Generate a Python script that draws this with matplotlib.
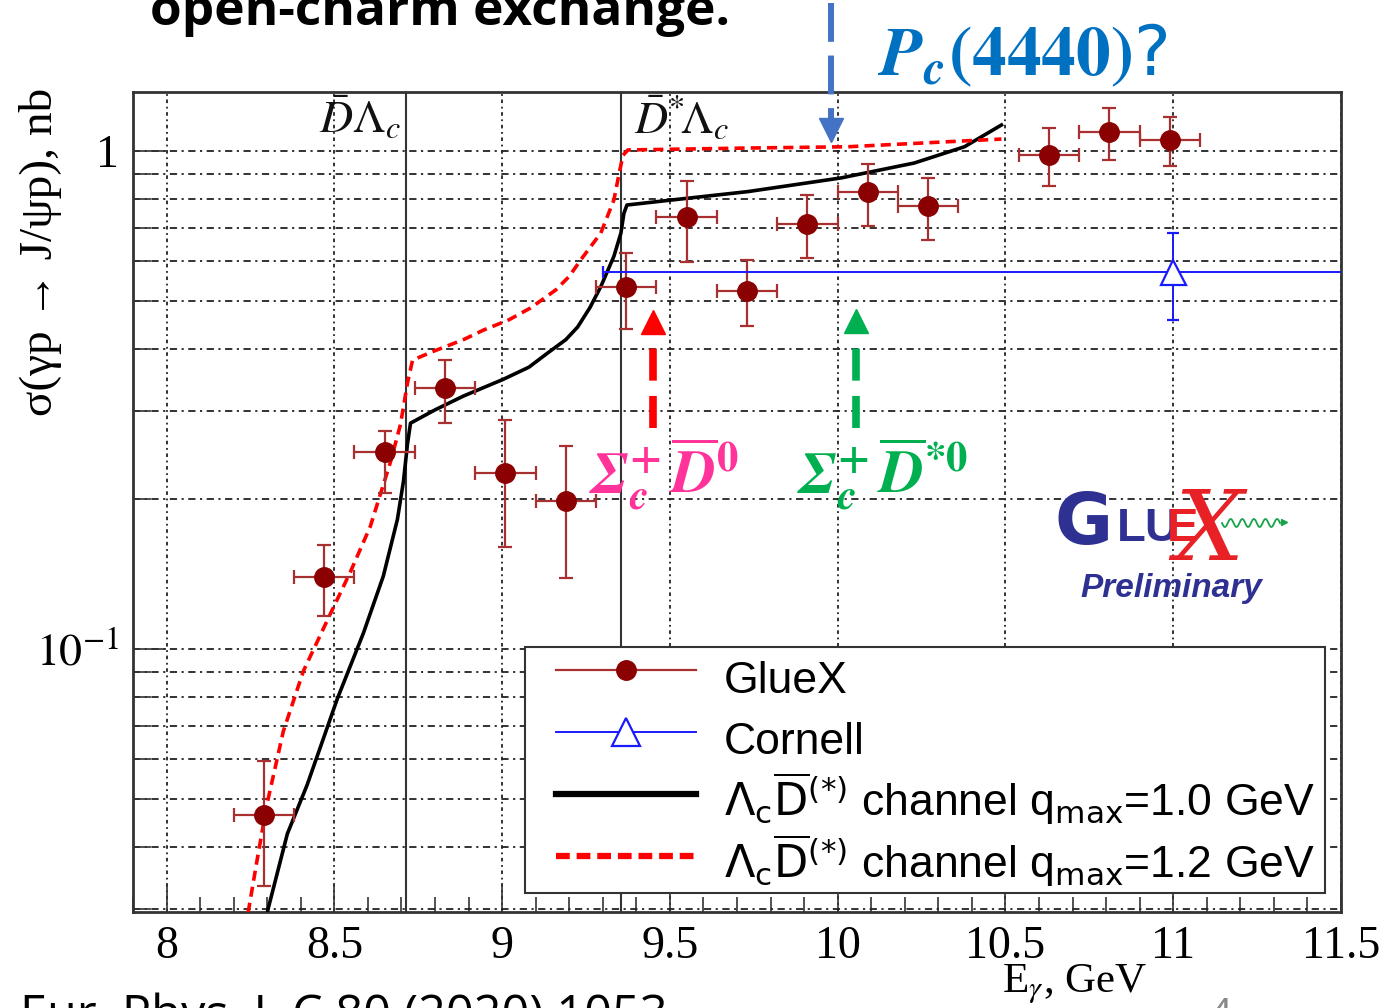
import numpy as np
import matplotlib
matplotlib.use("Agg")
import matplotlib.pyplot as plt
import matplotlib.transforms as mtransforms
from matplotlib.lines import Line2D
from matplotlib.patches import Rectangle
from matplotlib.font_manager import FontProperties
from matplotlib.ticker import FixedLocator, NullFormatter, MultipleLocator, FixedFormatter

# ---- GlueX measurement: sigma(gamma p -> J/psi p) in nb ----
gluex_E = [8.29, 8.47, 8.65, 8.83, 9.01, 9.19, 9.37, 9.55, 9.73, 9.91, 10.09, 10.27, 10.63, 10.81, 10.99]
gluex_sigma = [0.0464, 0.1395, 0.248, 0.334, 0.226, 0.198, 0.533, 0.737, 0.523, 0.713, 0.827, 0.775, 0.982, 1.092, 1.052]
gluex_err_up = [0.013, 0.022, 0.026, 0.046, 0.062, 0.058, 0.091, 0.134, 0.081, 0.103, 0.115, 0.108, 0.130, 0.128, 0.118]
gluex_err_dn = [0.013, 0.023, 0.042, 0.050, 0.066, 0.059, 0.094, 0.139, 0.078, 0.103, 0.120, 0.112, 0.131, 0.133, 0.119]
gluex_bin_half = 0.09

# ---- Cornell measurement ----
cornell_E = [11.0]
cornell_sigma = [0.571]
cornell_err = [0.113]
cornell_E_half = [1.70]

# ---- Model curves: Lambda_c D(*) exchange ----
q10_E = [8.29, 8.303, 8.36, 8.419, 8.509, 8.587, 8.646, 8.688, 8.706, 8.718, 8.727, 8.80, 8.885, 9.004, 9.08,
         9.136, 9.19, 9.225, 9.262, 9.294, 9.333, 9.354, 9.363, 9.372, 9.503, 9.733, 10.01, 10.228, 10.378, 10.488]
q10_sigma = [0.0275, 0.0301, 0.0425, 0.0533, 0.0794, 0.1077, 0.140, 0.182, 0.217, 0.258, 0.284, 0.302, 0.322, 0.348, 0.368,
             0.393, 0.418, 0.443, 0.485, 0.534, 0.614, 0.684, 0.750, 0.779, 0.797, 0.829, 0.883, 0.946, 1.020, 1.128]
q12_E = [8.243, 8.27, 8.30, 8.348, 8.408, 8.488, 8.548, 8.607, 8.667, 8.697, 8.718, 8.733, 8.787, 8.885,
         8.945, 9.02, 9.085, 9.16, 9.20, 9.234, 9.294, 9.333, 9.349, 9.36, 9.375, 9.733, 10.03, 10.488]
q12_sigma = [0.0295, 0.0377, 0.049, 0.0683, 0.0903, 0.1175, 0.1428, 0.176, 0.237, 0.282, 0.342, 0.380, 0.394, 0.418,
             0.437, 0.458, 0.484, 0.526, 0.560, 0.604, 0.684, 0.797, 0.903, 0.98, 1.005, 1.014, 1.02, 1.057]

# thresholds (GeV)
thresholds = [8.715, 9.354]
threshold_labels = [r"$\bar{D}\Lambda_c$", r"$\bar{D}^{*}\!\Lambda_c$"]

# energies marked by arrows
pc_E = 9.98
sigma_c_D_E = 9.45
sigma_c_Dstar_E = 10.055

x_ticks = [8, 8.5, 9, 9.5, 10, 10.5, 11, 11.5]
x_tick_labels = ["8", "8.5", "9", "9.5", "10", "10.5", "11", "11.5"]
y_ticks = [0.1, 1]
y_tick_labels = [r"$10^{-1}$", "1"]

plt.rcParams['mathtext.fontset'] = 'stix'

W, H = 1385, 1008
fig = plt.figure(figsize=(W / 100, H / 100), dpi=100)
fig.patch.set_facecolor('white')


def fpos(x, y):
    """pixel position -> figure fraction"""
    return x / W, 1 - y / H


AX_L, AX_R, AX_T, AX_B = 133, 1341, 92, 912
ax = fig.add_axes([AX_L / W, 1 - AX_B / H, (AX_R - AX_L) / W, (AX_B - AX_T) / H])


def apos(x, y):
    """pixel position -> axes fraction"""
    return (x - AX_L) / (AX_R - AX_L), (AX_B - y) / (AX_B - AX_T)


ax.set_yscale('log')
ax.set_xlim(7.9, 11.5)
ax.set_ylim(0.0296, 1.314)

serif = ['Liberation Serif', 'DejaVu Serif']
ax.xaxis.set_major_locator(FixedLocator(x_ticks))
ax.xaxis.set_major_formatter(FixedFormatter(x_tick_labels))
ax.xaxis.set_minor_locator(MultipleLocator(0.1))
ax.yaxis.set_major_locator(FixedLocator(y_ticks))
ax.yaxis.set_major_formatter(FixedFormatter(y_tick_labels))
ax.yaxis.set_minor_locator(FixedLocator([m * 10.0 ** k for k in (-2, -1, 0) for m in range(2, 10)]))
ax.yaxis.set_minor_formatter(NullFormatter())

for lab in ax.get_xticklabels() + ax.get_yticklabels():
    lab.set_family(serif)
ax.tick_params(axis='both', which='both', direction='in', labelsize=33, color='#333333', width=1.2)
ax.tick_params(axis='x', which='major', length=20, pad=10)
ax.tick_params(axis='x', which='minor', length=11)
ax.tick_params(axis='y', which='major', length=24, pad=10)
ax.tick_params(axis='y', which='minor', length=13)

ax.grid(axis='y', which='both', color='#222222', lw=1.3, linestyle=(0, (4, 2.5, 1.2, 2.5)))
ax.grid(axis='x', which='major', color='#222222', lw=1.3, linestyle=(0, (2, 2, 1, 2)))
for s in ax.spines.values():
    s.set_linewidth(2)
    s.set_color('#333333')

# threshold lines and labels
tr_thr = mtransforms.blended_transform_factory(ax.transData, ax.transAxes)
for thr in thresholds:
    ax.axvline(thr, color='#333333', lw=1.5, zorder=2)
ax.text(thresholds[0] - 0.015, 0.95, threshold_labels[0], transform=tr_thr, ha='right', va='baseline',
        fontsize=33, color='#111111')
ax.text(thresholds[1] + 0.04, 0.95, threshold_labels[1], transform=tr_thr, ha='left', va='baseline',
        fontsize=33, color='#111111')

# model curves
ax.plot(q10_E, q10_sigma, color='black', lw=2.6, zorder=3)
ax.plot(q12_E, q12_sigma, color='#FF0000', lw=2.6, dashes=(2.8, 1.7), zorder=3)

# data
ax.errorbar(gluex_E, gluex_sigma, yerr=[gluex_err_dn, gluex_err_up], xerr=gluex_bin_half,
            fmt='o', ms=14, mfc='#8B0000', mec='#8B0000', ecolor='#A83030', elinewidth=1.6,
            capsize=5, capthick=1.6, zorder=4)
ax.errorbar(cornell_E, cornell_sigma, yerr=cornell_err, xerr=cornell_E_half,
            fmt='^', ms=18, mfc='white', mec='#1a1aff', mew=1.6, ecolor='#1a1aff', elinewidth=1.4,
            capsize=4, capthick=1.4, zorder=4)

# legend: white framed box with the entries inside
bx0, by0 = apos(525, 893)
bx1, by1 = apos(1325, 647)
ax.add_patch(Rectangle((bx0, by0), bx1 - bx0, by1 - by0, transform=ax.transAxes, facecolor='white',
                       edgecolor='#333333', lw=1.5, zorder=5, clip_on=False))
h_gluex = Line2D([], [], color='#A83030', lw=1.6, marker='o', ms=14, mfc='#8B0000', mec='#8B0000')
h_cornell = Line2D([], [], color='#1a1aff', lw=1.4, marker='^', ms=20, mfc='white', mec='#1a1aff', mew=1.6)
h_q10 = Line2D([], [], color='black', lw=4.5)
h_q12 = Line2D([], [], color='#FF0000', lw=4.5, dashes=(2.2, 1.1))
lab_q10 = r"$\Lambda_{\rm c}\overline{\rm D}^{(*)}$ channel q$_{\rm max}$=1.0 GeV"
lab_q12 = r"$\Lambda_{\rm c}\overline{\rm D}^{(*)}$ channel q$_{\rm max}$=1.2 GeV"
leg_font = FontProperties(family=['Liberation Sans', 'DejaVu Sans'], size=32, math_fontfamily='dejavusans')
leg = ax.legend([h_gluex, h_cornell, h_q10, h_q12], ["GlueX", "Cornell", lab_q10, lab_q12],
                prop=leg_font, loc='upper left', bbox_to_anchor=apos(556, 648),
                borderaxespad=0, handlelength=3.15, handletextpad=0.62,
                handleheight=1.737, labelspacing=0.0, borderpad=0.0, frameon=False)
leg.set_zorder(6)

# axis titles
fig.text(*fpos(1075, 984), r"E$_{\gamma}$, GeV", ha='center', va='center', fontsize=31, family=serif)
fig.text(*fpos(41, 88), "σ(γp → J/ψp), nb", ha='center', va='top', rotation=90, fontsize=34, family=serif)

# arrows
trf = mtransforms.blended_transform_factory(ax.transData, fig.transFigure)


def dashed_arrow(xe, y_tail, y_shaft_end, y_tip, color, lw, dash):
    _, yt = fpos(0, y_tail)
    _, ys = fpos(0, y_shaft_end)
    _, yp = fpos(0, y_tip)
    ln = Line2D([xe, xe], [yt, ys], transform=trf, color=color, lw=lw, dashes=dash,
                solid_capstyle='butt', dash_capstyle='butt', clip_on=False, zorder=7)
    fig.add_artist(ln)
    mk = '^' if y_tip < y_shaft_end else 'v'
    mid = (ys + yp) / 2
    tri = Line2D([xe], [mid], transform=trf, marker=mk, ms=17, color=color, mec=color, ls='none',
                 clip_on=False, zorder=7)
    fig.add_artist(tri)


dashed_arrow(pc_E, 3, 118, 142, '#4472C4', 4.3, (6.5, 2.3))
dashed_arrow(sigma_c_D_E, 428, 334, 310, '#FF0000', 5.5, (4.2, 2.0))
dashed_arrow(sigma_c_Dstar_E, 428, 334, 308, '#00B050', 5.5, (4.2, 2.0))

# annotation labels
fig.text(*fpos(878, 56), r"$\mathbfit{P}_{\mathbfit{c}}\mathbf{(4440)}$?", ha='left', va='center',
         fontsize=50, color='#0070C0')
fig.text(*fpos(589, 474), r"$\mathbfit{\Sigma}_{\mathbfit{c}}^{\mathbf{+}}\,\overline{\mathbfit{D}}^{\mathbf{0}}$",
         ha='left', va='center', fontsize=44, color='#FF3399')
fig.text(*fpos(797, 474), r"$\mathbfit{\Sigma}_{\mathbfit{c}}^{\mathbf{+}}\,\overline{\mathbfit{D}}^{\mathbf{*0}}$",
         ha='left', va='center', fontsize=44, color='#00B050')

# GlueX logo
logo_blue = '#2E3192'
logo_red = '#E82127'
fig.text(*fpos(1054, 544), "G", ha='left', va='baseline', fontsize=51, fontweight='bold',
         color=logo_blue, family='DejaVu Sans')
fig.text(*fpos(1117, 541), "LU", ha='left', va='baseline', fontsize=34, fontweight='bold',
         color=logo_blue, family='Liberation Sans')
fig.text(*fpos(1167, 541), "E", ha='left', va='baseline', fontsize=34, fontweight='bold',
         color=logo_red, family='Liberation Sans')
fig.text(*fpos(1174, 560), "X", ha='left', va='baseline', fontsize=70, fontstyle='italic',
         color=logo_red, family='DejaVu Serif')
wx = np.linspace(1222, 1280, 120)
wy = 523 + 4 * np.sin((wx - 1222) / 58 * 2 * np.pi * 5)
fig.add_artist(Line2D(wx / W, 1 - wy / H, color='#17A34A', lw=1.3, transform=fig.transFigure))
fig.add_artist(Line2D([1284 / W], [1 - 522 / H], marker='>', ms=5, color='#17A34A',
                      transform=fig.transFigure))
fig.text(*fpos(1080, 597), "Preliminary", ha='left', va='baseline', fontsize=24, fontweight='bold',
         fontstyle='italic', color=logo_blue, family='Liberation Sans')

# slide text around the figure
fig.text(*fpos(150, 25), "open-charm exchange.", ha='left', va='baseline', fontsize=37,
         fontweight='bold', family='Open Sans', color='black')
fig.text(*fpos(20, 1030), "Eur. Phys. J. C 80 (2020) 1053", ha='left', va='baseline', fontsize=35,
         family='Open Sans', color='black')
fig.text(*fpos(1208, 1028), "4", ha='left', va='baseline', fontsize=30, family='Open Sans', color='#888888')

fig.savefig('out.png', dpi=100, facecolor='white')
